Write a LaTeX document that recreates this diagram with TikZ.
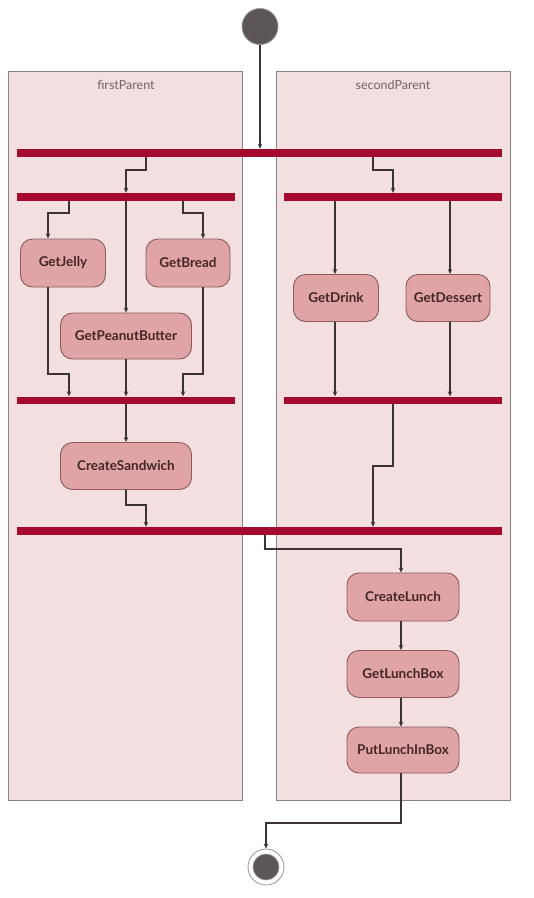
\documentclass[tikz,border=0pt]{standalone}
\usepackage{fontspec}
\setmainfont{Lato}
\usetikzlibrary{arrows.meta,positioning}
\definecolor{partfill}{HTML}{F3DFDF}
\definecolor{partline}{HTML}{8C8282}
\definecolor{partlbl}{HTML}{6E6464}
\definecolor{barred}{HTML}{A30A2E}
\definecolor{actfill}{HTML}{E0A4A6}
\definecolor{actline}{HTML}{8A5A5A}
\definecolor{acttext}{HTML}{432628}
\definecolor{flowline}{HTML}{3C3434}
\definecolor{dotfill}{HTML}{5C5657}
\definecolor{dotline}{HTML}{9A9494}
\tikzset{
  partition/.style={draw=partline, fill=partfill, line width=0.9pt, inner sep=0pt},
  partlabel/.style={text=partlbl, font=\fontsize{12.5}{14}\selectfont},
  syncbar/.style={fill=barred, draw=none, inner sep=0pt, minimum height=8pt},
  action/.style={draw=actline, fill=actfill, line width=0.9pt, rounded corners=12pt,
    inner sep=0pt, text=acttext, font=\bfseries\fontsize{13.5}{15}\selectfont},
  flow/.style={draw=flowline, line width=1.1pt, -{Stealth[length=5pt,width=4.5pt]}},
  startdot/.style={circle, fill=dotfill, draw=dotline, line width=0.8pt, minimum size=36pt, inner sep=0pt},
}
\begin{document}
\begin{tikzpicture}[x=1pt,y=-1pt]
\useasboundingbox (0,0) rectangle (534,898);
% partitions
\node[partition, minimum width=234pt, minimum height=729pt] (leftpart) at (125,435.5) {};
\node[partition, minimum width=234pt, minimum height=729pt] (rightpart) at (393,435.5) {};
\node[partlabel] (lbl1) at (126,85) {firstParent};
\node[partlabel] (lbl2) at (393,85) {secondParent};
% column and row helpers
\foreach \n/\v in {c48/48,c69/69,c126/126,c146/146,c183/183,c203/203,c265/265,c266/266,c335/335,c373/373,c393/393,c401/401,c450/450}
  {\coordinate (\n) at (\v,0);}
\foreach \n/\v in {r170/170,r213/213,r374/374,r466/466,r505/505,r549/549,r823/823}
  {\coordinate (\n) at (0,\v);}
% start and end
\node[startdot] (start) at (260,26.5) {};
\node[circle, draw=dotline, fill=white, line width=0.8pt, minimum size=36pt, inner sep=0pt] (endc) at (266,867) {};
\node[circle, fill=dotfill, draw=dotline, line width=0.6pt, minimum size=26pt, inner sep=0pt] (endin) at (266,867) {};
% bars
\node[syncbar, minimum width=485pt] (bar1) at (259.5,153) {};
\node[syncbar, minimum width=218pt] (bar2l) at (126,197) {};
\node[syncbar, minimum width=218pt] (bar2r) at (393,197) {};
\node[syncbar, minimum width=218pt, minimum height=7pt] (bar3l) at (126,400) {};
\node[syncbar, minimum width=218pt, minimum height=7pt] (bar3r) at (393,400) {};
\node[syncbar, minimum width=485pt] (bar4) at (259.5,531) {};
% actions
\node[action, minimum width=85pt, minimum height=48pt] (getjelly) at (63,263) {GetJelly};
\node[action, minimum width=84pt, minimum height=48pt] (getbread) at (188,263) {GetBread};
\node[action, minimum width=131pt, minimum height=46pt] (getpb) at (126,336) {GetPeanutButter};
\node[action, minimum width=131pt, minimum height=47pt] (createsw) at (126,466) {CreateSandwich};
\node[action, minimum width=85pt, minimum height=47pt] (getdrink) at (336,298) {GetDrink};
\node[action, minimum width=84pt, minimum height=47pt] (getdessert) at (448,298) {GetDessert};
\node[action, minimum width=112pt, minimum height=48pt] (createlunch) at (403,597) {CreateLunch};
\node[action, minimum width=112pt, minimum height=47pt] (getbox) at (403,674) {GetLunchBox};
\node[action, minimum width=112pt, minimum height=46pt] (putbox) at (403,750) {PutLunchInBox};
% flows
\draw[flow] (start) -- (bar1.north -| start);
\draw[flow] (bar1.south -| c146) -- (c146 |- r170) -- (c126 |- r170) -- (bar2l.north -| c126);
\draw[flow] (bar1.south -| c373) -- (c373 |- r170) -- (c393 |- r170) -- (bar2r.north -| c393);
\draw[flow] (bar2l.south -| c69) -- (c69 |- r213) -- (c48 |- r213) -- (getjelly.north -| c48);
\draw[flow] (bar2l.south -| c126) -- (getpb.north -| c126);
\draw[flow] (bar2l.south -| c183) -- (c183 |- r213) -- (c203 |- r213) -- (getbread.north -| c203);
\draw[flow] (getjelly.south -| c48) -- (c48 |- r374) -- (c69 |- r374) -- (bar3l.north -| c69);
\draw[flow] (getpb.south -| c126) -- (bar3l.north -| c126);
\draw[flow] (getbread.south -| c203) -- (c203 |- r374) -- (c183 |- r374) -- (bar3l.north -| c183);
\draw[flow] (bar2r.south -| c335) -- (getdrink.north -| c335);
\draw[flow] (bar2r.south -| c450) -- (getdessert.north -| c450);
\draw[flow] (getdrink.south -| c335) -- (bar3r.north -| c335);
\draw[flow] (getdessert.south -| c450) -- (bar3r.north -| c450);
\draw[flow] (bar3l.south -| c126) -- (createsw.north -| c126);
\draw[flow] (createsw.south -| c126) -- (c126 |- r505) -- (c146 |- r505) -- (bar4.north -| c146);
\draw[flow] (bar3r.south -| c393) -- (c393 |- r466) -- (c373 |- r466) -- (bar4.north -| c373);
\draw[flow] (bar4.south -| c265) -- (c265 |- r549) -- (c401 |- r549) -- (createlunch.north -| c401);
\draw[flow] (createlunch.south -| c401) -- (getbox.north -| c401);
\draw[flow] (getbox.south -| c401) -- (putbox.north -| c401);
\draw[flow] (putbox.south -| c401) -- (c401 |- r823) -- (c266 |- r823) -- (endc.north);
\end{tikzpicture}
\end{document}
